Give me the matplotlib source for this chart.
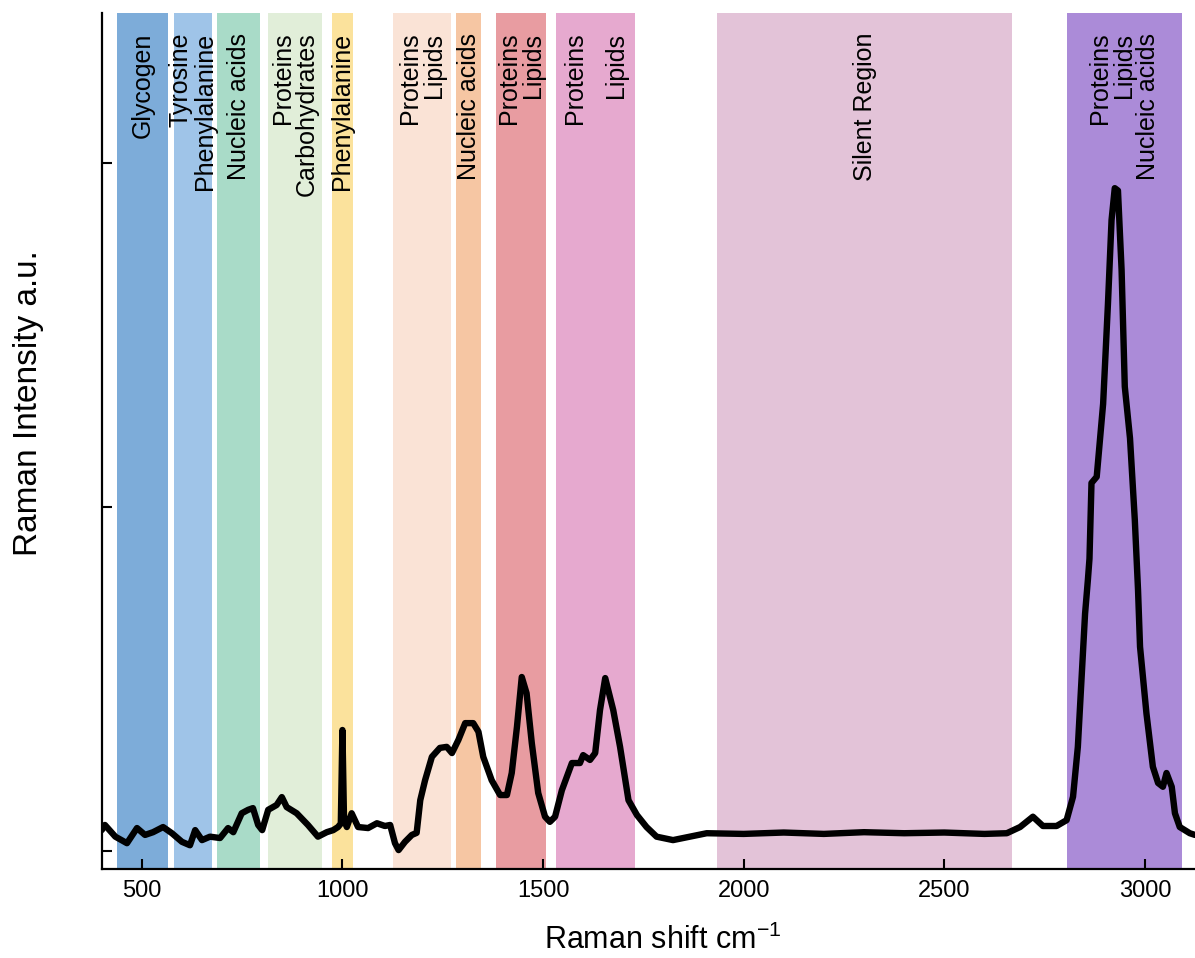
import matplotlib
matplotlib.use("Agg")
import matplotlib.pyplot as plt
import matplotlib.transforms as mtransforms

plt.rcParams['font.family'] = ['Liberation Sans', 'DejaVu Sans']
plt.rcParams['mathtext.fontset'] = 'custom'
plt.rcParams['mathtext.rm'] = 'Liberation Sans'
plt.rcParams['mathtext.it'] = 'Liberation Sans:italic'

# Raman spectrum
shift = [400, 408, 434, 463, 488, 508, 528, 553, 575, 600, 620, 633, 650, 670, 695,
         715, 728, 749, 765, 777, 790, 800, 815, 836, 849, 861, 886, 914, 939, 961,
         977, 989, 996, 1000, 1004, 1011, 1023, 1039, 1064, 1086, 1106, 1119, 1131,
         1140, 1156, 1173, 1185, 1194, 1206, 1223, 1243, 1260, 1273, 1289, 1306,
         1326, 1339, 1351, 1372, 1393, 1410, 1422, 1435, 1447, 1459, 1472, 1488,
         1505, 1517, 1530, 1547, 1572, 1592, 1600, 1617, 1630, 1642, 1655, 1675,
         1692, 1713, 1734, 1758, 1783, 1824, 1908, 2000, 2100, 2200, 2300, 2400,
         2500, 2600, 2656, 2689, 2721, 2746, 2780, 2805, 2821, 2833, 2842, 2851,
         2858, 2862, 2867, 2880, 2896, 2908, 2917, 2925, 2933, 2942, 2950, 2963,
         2975, 2983, 2988, 3004, 3020, 3033, 3045, 3054, 3067, 3075, 3087, 3112, 3125]
intensity = [0.061, 0.076, 0.042, 0.023, 0.067, 0.047, 0.055, 0.070, 0.052, 0.027,
             0.017, 0.061, 0.032, 0.042, 0.038, 0.067, 0.055, 0.110, 0.120, 0.125,
             0.076, 0.061, 0.120, 0.134, 0.157, 0.128, 0.110, 0.076, 0.042, 0.055,
             0.061, 0.070, 0.080, 0.352, 0.090, 0.070, 0.110, 0.070, 0.067, 0.081,
             0.073, 0.076, 0.023, 0.003, 0.027, 0.047, 0.053, 0.148, 0.206, 0.274,
             0.300, 0.303, 0.285, 0.323, 0.372, 0.372, 0.347, 0.274, 0.206, 0.163,
             0.163, 0.227, 0.361, 0.506, 0.459, 0.314, 0.169, 0.100, 0.085, 0.100,
             0.177, 0.256, 0.256, 0.279, 0.265, 0.285, 0.410, 0.503, 0.410, 0.303,
             0.148, 0.105, 0.070, 0.042, 0.032, 0.052, 0.050, 0.054, 0.050, 0.055,
             0.052, 0.054, 0.050, 0.052, 0.070, 0.100, 0.073, 0.073, 0.090, 0.158,
             0.303, 0.497, 0.690, 0.788, 0.850, 1.070, 1.088, 1.300, 1.590, 1.834,
             1.927, 1.920, 1.690, 1.350, 1.200, 0.962, 0.759, 0.594, 0.400, 0.245,
             0.198, 0.187, 0.227, 0.187, 0.110, 0.070, 0.052, 0.047]

# assignment bands
band_start = [438, 581, 687, 814, 973, 1127, 1283, 1383, 1532, 1934, 2805]
band_end = [565, 674, 795, 950, 1026, 1270, 1346, 1507, 1729, 2670, 3092]
band_labels = ["Glycogen", "Tyrosine\nPhenylalanine", "Nucleic acids",
               "Proteins\nCarbohydrates", "Phenylalanine", "Proteins\nLipids",
               "Nucleic acids", "Proteins\nLipids", "Proteins\nLipids",
               "Silent Region", "Proteins\nLipids\nNucleic acids"]
band_colors = ["#7dacd9", "#9fc4e8", "#a9dbc8", "#e1eed9", "#fbe29c", "#fae3d6",
               "#f6c6a3", "#e89ca1", "#e6a9cf", "#e3c3d8", "#ab8bd8"]
band_spacing = [1.0, 1.0, 1.0, 1.0, 1.0, 1.0, 1.0, 1.0, 1.9, 1.0, 1.0]

fig = plt.figure(figsize=(11.95, 9.58), dpi=100)
ax = fig.add_axes([0.0851, 0.0929, 0.9149, 0.8935])

for s, e, c in zip(band_start, band_end, band_colors):
    ax.axvspan(s, e, color=c, lw=0, zorder=0)

trans = mtransforms.blended_transform_factory(ax.transData, ax.transAxes)
for s, e, lab, ls in zip(band_start, band_end, band_labels, band_spacing):
    ax.text((s + e) / 2, 0.977, lab, transform=trans, rotation=90,
            ha='center', va='top', multialignment='right',
            fontsize=18, linespacing=ls, zorder=2)

ax.plot(shift, intensity, color='black', lw=4.6, solid_joinstyle='round',
        solid_capstyle='round', zorder=3)

ax.set_xlim(400, 3125)
ax.set_ylim(-0.052, 2.436)
ax.set_xticks([500, 1000, 1500, 2000, 2500, 3000])
ax.set_yticks([0, 1, 2])
ax.set_yticklabels([])
ax.tick_params(direction='in', length=7.5, width=1.5, labelsize=17, pad=8)

for side in ['top', 'right']:
    ax.spines[side].set_visible(False)
for side in ['left', 'bottom']:
    ax.spines[side].set_linewidth(1.6)

ax.set_xlabel(r'Raman shift cm$^{-1}$', fontsize=22)
ax.set_ylabel('Raman Intensity a.u.', fontsize=24)
ax.xaxis.set_label_coords(0.513, -0.065)
ax.yaxis.set_label_coords(-0.053, 0.544)

fig.savefig('out.png', dpi=100)
plt.close(fig)
